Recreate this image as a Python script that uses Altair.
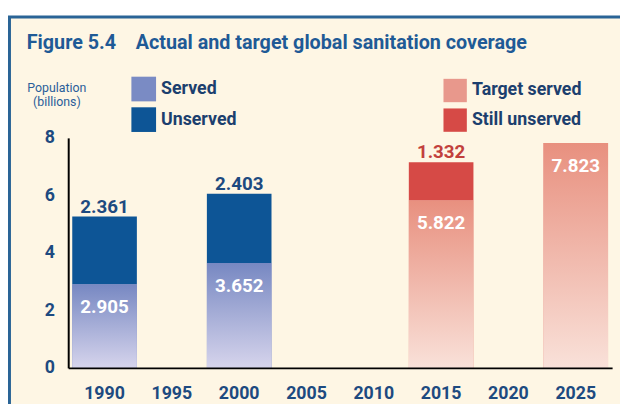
import altair as alt
import pandas as pd

# ---- data ----
years = ["1990", "2000", "2015", "2025"]
kinds = ["actual", "actual", "target", "target"]
served = [2.905, 3.652, 5.822, 7.823]
unserved = [2.361, 2.403, 1.332, None]
axis_years = ["1990", "1995", "2000", "2005", "2010", "2015", "2020", "2025"]
actual_names = ["Served", "Unserved"]
target_names = ["Target served", "Still unserved"]

rows = []
for yr, kd, s, u in zip(years, kinds, served, unserved):
    lower = actual_names[0] if kd == "actual" else target_names[0]
    upper = actual_names[1] if kd == "actual" else target_names[1]
    rows.append(dict(year=yr, kind=kd, series=lower, start=0.0, end=s, label=f"{s:.3f}"))
    if u:
        rows.append(dict(year=yr, kind=kd, series=upper, start=s, end=s + u, label=f"{u:.3f}"))
df = pd.DataFrame(rows)

FONT = "Roboto, Liberation Sans, sans-serif"
CREAM = "#fef6e4"
NAVY = "#1d4a80"
BLUE_TITLE = "#1f5a96"

xenc = alt.X(
    "year:O",
    scale=alt.Scale(domain=axis_years, paddingInner=0.04, paddingOuter=0.06),
    axis=alt.Axis(title=None, labelAngle=0, ticks=False, domainColor="black",
                  domainWidth=2, labelFont=FONT, labelFontSize=18, labelFontWeight="bold",
                  labelColor=NAVY, labelPadding=17, zindex=1),
)


def yenc(field):
    return alt.Y(
        field,
        scale=alt.Scale(domain=[0, 8]),
        axis=alt.Axis(title=["Population", "(billions)"], values=[0, 2, 4, 6, 8],
                      ticks=False, grid=False, domainColor="black", domainWidth=2,
                      labelFont=FONT, labelFontSize=18, labelFontWeight="bold",
                      labelColor=NAVY, labelPadding=14, titleAngle=0, titleX=-12,
                      titleY=-57, titleAlign="center", titleBaseline="top",
                      titleFont=FONT, titleFontSize=12.5, titleFontWeight="normal",
                      titleLineHeight=14, titleColor="#2b5e9a", zindex=1),
    )


base = alt.Chart(df)

frame = alt.Chart(alt.Data(values=[{"f": 1}])).mark_rect(
    fill=CREAM, stroke="#2a6496", strokeWidth=3
).encode(x=alt.value(-59.5), x2=alt.value(640), y=alt.value(-122.5), y2=alt.value(400))

legend_common = dict(orient="none", title=None, symbolType="square", symbolStrokeWidth=0,
                     labelFont=FONT, labelFontSize=18, labelFontWeight="bold",
                     labelColor="#1c3f6e", labelOffset=5, rowPadding=6, padding=0)

actual_bars = base.transform_filter(alt.datum.kind == "actual").mark_bar().encode(
    x=xenc, y=yenc("start:Q"), y2="end:Q",
    color=alt.Color("series:N",
                    scale=alt.Scale(domain=actual_names, range=["#7a8bc4", "#0d5596"]),
                    legend=alt.Legend(legendX=64, legendY=-62, symbolSize=625, **legend_common)),
)

target_bars = base.transform_filter(alt.datum.kind == "target").mark_bar().encode(
    x=xenc, y=yenc("start:Q"), y2="end:Q",
    color=alt.Color("series:N",
                    scale=alt.Scale(domain=target_names, range=["#e8988c", "#d64a46"]),
                    legend=alt.Legend(legendX=380, legendY=-60, symbolSize=560, **legend_common)),
)

served_grad = alt.Gradient(
    gradient="linear", x1=0, x2=0, y1=0, y2=1,
    stops=[alt.GradientStop(color="#7788c2", offset=0),
           alt.GradientStop(color="#d6d4ec", offset=1)],
)
target_grad = alt.Gradient(
    gradient="linear", x1=0, x2=0, y1=0, y2=1,
    stops=[alt.GradientStop(color="#e8907f", offset=0),
           alt.GradientStop(color="#f9e1d9", offset=1)],
)

served_overlay = base.transform_filter(alt.datum.series == "Served").mark_bar(
    fill=served_grad).encode(x=xenc, y=yenc("start:Q"), y2="end:Q")
target_overlay = base.transform_filter(alt.datum.series == "Target served").mark_bar(
    fill=target_grad).encode(x=xenc, y=yenc("start:Q"), y2="end:Q")

text_style = dict(font=FONT, fontSize=19, fontWeight="bold")

top_blue = base.transform_filter(alt.datum.series == "Unserved").mark_text(
    baseline="alphabetic", dy=-4, color=NAVY, **text_style
).encode(x=xenc, y=yenc("end:Q"), text="label:N")

top_red = base.transform_filter(alt.datum.series == "Still unserved").mark_text(
    baseline="alphabetic", dy=-4, color="#c2403c", **text_style
).encode(x=xenc, y=yenc("end:Q"), text="label:N")

inner = base.transform_filter(
    (alt.datum.series == "Served") | (alt.datum.series == "Target served")
).mark_text(baseline="middle", dy=23, color="white", **text_style).encode(
    x=xenc, y=yenc("end:Q"), text="label:N")

chart = alt.layer(
    frame, actual_bars, target_bars, served_overlay, target_overlay, top_blue, top_red, inner
).resolve_scale(color="independent").properties(
    width=551, height=233,
    autosize=alt.AutoSizeParams(type="none"),
    padding={"left": 61, "top": 129, "right": 8, "bottom": 34},
    background="white",
    title=alt.Title("Figure 5.4\u00a0\u00a0\u00a0\u00a0Actual and target global sanitation coverage",
                    anchor="start", frame="group", font=FONT, fontSize=20,
                    fontWeight="bold", color=BLUE_TITLE, dx=-42, dy=42),
).configure_view(stroke=None)

chart.save("out.html", embed_options={"renderer": "svg", "actions": False})
